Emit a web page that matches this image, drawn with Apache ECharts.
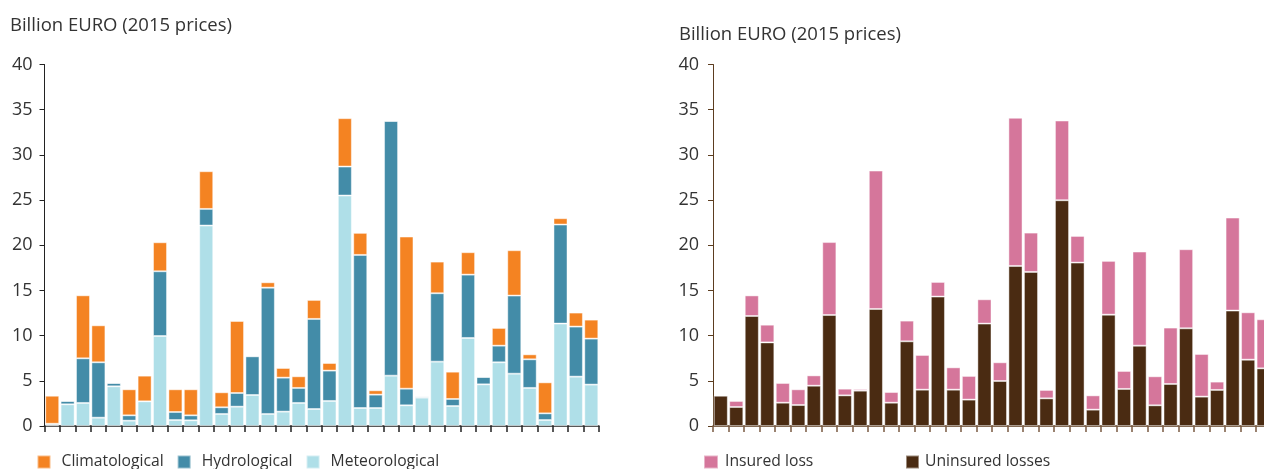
<!DOCTYPE html>
<html>
<head>
<meta charset="utf-8">
<script src="https://cdn.jsdelivr.net/npm/echarts@6/dist/echarts.min.js"></script>
<style>
  html, body { margin: 0; padding: 0; overflow: hidden; background: #fff; }
  #chart { width: 1272px; height: 469px; }
</style>
</head>
<body>
<div id="chart"></div>
<script>
// Years covered by both panels
const years = [];
for (let y = 1980; y <= 2015; y++) years.push(String(y));

// Left panel: losses by hazard type, billion EUR (2015 prices)
const meteorological = [0.1, 2.4, 2.55, 0.92, 4.39, 0.59, 2.73, 9.96, 0.66, 0.63, 22.18, 1.33, 2.14, 3.43, 1.33, 1.59, 2.55, 1.88, 2.77, 25.5, 1.99, 1.99, 5.57, 2.29, 3.14, 7.12, 2.21, 9.74, 4.61, 7.05, 5.79, 4.21, 0.66, 11.33, 5.46, 4.58];
const hydrological = [0.15, 0.37, 4.94, 6.13, 0.37, 0.59, 0, 7.16, 0.89, 0.55, 1.84, 0.74, 1.51, 4.28, 13.98, 3.76, 1.66, 9.97, 3.36, 3.21, 16.94, 1.48, 28.19, 1.84, 0.14, 7.57, 0.78, 7.01, 0.81, 1.84, 8.64, 3.17, 0.74, 10.96, 5.54, 5.09];
const climatological = [3.1, 0, 6.97, 4.09, 0, 2.88, 2.84, 3.21, 2.51, 2.88, 4.17, 1.66, 7.97, 0.11, 0.59, 1.07, 1.29, 2.1, 0.84, 5.35, 2.44, 0.48, 0, 16.83, 0, 3.5, 3.02, 2.48, 0.04, 1.96, 5.02, 0.55, 3.43, 0.7, 1.55, 2.1];

// Right panel: insured vs uninsured losses, billion EUR (2015 prices)
const uninsured = [3.35, 2.1, 12.17, 9.25, 2.58, 2.32, 4.46, 12.28, 3.39, 3.91, 12.95, 2.58, 9.37, 4.02, 14.32, 4.02, 2.92, 11.33, 4.98, 17.71, 17.05, 3.06, 24.98, 18.08, 1.81, 12.32, 4.1, 8.89, 2.29, 4.65, 10.81, 3.25, 3.99, 12.77, 7.34, 6.38];
const insured = [0.05, 0.67, 2.28, 1.96, 2.18, 1.74, 1.14, 8.07, 0.74, 0.18, 15.31, 1.18, 2.29, 3.84, 1.62, 2.47, 2.62, 2.69, 2.07, 16.39, 4.35, 0.93, 8.82, 2.95, 1.58, 5.95, 1.99, 10.41, 3.21, 6.24, 8.75, 4.72, 0.92, 10.29, 5.24, 5.43];

const yTicks = { min: 0, max: 40, interval: 5 };
const unitLabel = 'Billion EURO (2015 prices)';

const FONT = '"Open Sans", "Noto Sans", sans-serif';
const TEXT = '#333333';

function yAxis(gridIndex, lineColor, margin) {
  return {
    type: 'value', gridIndex,
    min: yTicks.min, max: yTicks.max, interval: yTicks.interval,
    splitLine: { show: false },
    axisLine: { show: true, lineStyle: { color: lineColor, width: 1 } },
    axisTick: { show: true, length: 5, lineStyle: { color: lineColor } },
    axisLabel: { color: TEXT, fontSize: 18, fontFamily: FONT, margin }
  };
}
function xAxis(gridIndex, lineColor, tickColor) {
  return {
    type: 'category', gridIndex, data: years, boundaryGap: true,
    axisLine: { show: true, lineStyle: { color: lineColor, width: 1.5 } },
    axisTick: { show: true, interval: 0, length: 6, lineStyle: { color: tickColor, width: 1.5 } },
    axisLabel: { show: false }
  };
}
function bar(name, data, color, idx, stack) {
  return {
    name, type: 'bar', data, stack,
    xAxisIndex: idx, yAxisIndex: idx,
    barCategoryGap: '9%',
    itemStyle: { color, borderColor: 'rgba(255,255,255,0.45)', borderWidth: 1 },
    emphasis: { disabled: true }
  };
}

const titleStyle = { fontSize: 18.5, fontWeight: 'normal', color: TEXT, fontFamily: FONT };
const legendText = { fontSize: 15.7, color: TEXT, fontFamily: FONT };

const chart = echarts.init(document.getElementById('chart'), null, { renderer: 'canvas' });
chart.setOption({
  animation: false,
  backgroundColor: '#ffffff',
  textStyle: { fontFamily: FONT },
  title: [
    { text: unitLabel, left: 5, top: 11, textStyle: titleStyle },
    { text: unitLabel, left: 674, top: 20, textStyle: titleStyle }
  ],
  grid: [
    { left: 44.5, top: 64.5, width: 554.5, height: 361.5 },
    { left: 713, top: 64.5, width: 558.4, height: 361.5 }
  ],
  xAxis: [xAxis(0, '#222222', '#222222'), xAxis(1, '#5c3d20', '#7a5a42')],
  yAxis: [yAxis(0, '#222222', 12), yAxis(1, '#5c3d20', 14)],
  legend: [
    {
      data: ['Climatological', 'Hydrological', 'Meteorological'],
      left: 31.5, top: 449, icon: 'rect', itemWidth: 13, itemHeight: 13, itemGap: 13,
      selectedMode: false,
      textStyle: Object.assign({ padding: [0, 0, 0, 6] }, legendText)
    },
    {
      data: ['Insured loss'],
      left: 698, top: 449, icon: 'rect', itemWidth: 14, itemHeight: 13,
      selectedMode: false,
      textStyle: Object.assign({ padding: [0, 0, 0, 2] }, legendText)
    },
    {
      data: ['Uninsured losses'],
      left: 900, top: 449, icon: 'rect', itemWidth: 13, itemHeight: 13,
      selectedMode: false,
      textStyle: Object.assign({ padding: [0, 0, 0, 1] }, legendText)
    }
  ],
  series: [
    bar('Meteorological', meteorological, '#afdfe8', 0, 'hazard'),
    bar('Hydrological', hydrological, '#438ca8', 0, 'hazard'),
    bar('Climatological', climatological, '#f48322', 0, 'hazard'),
    bar('Uninsured losses', uninsured, '#4a2b12', 1, 'insurance'),
    bar('Insured loss', insured, '#d5769b', 1, 'insurance')
  ]
});
</script>
</body>
</html>
